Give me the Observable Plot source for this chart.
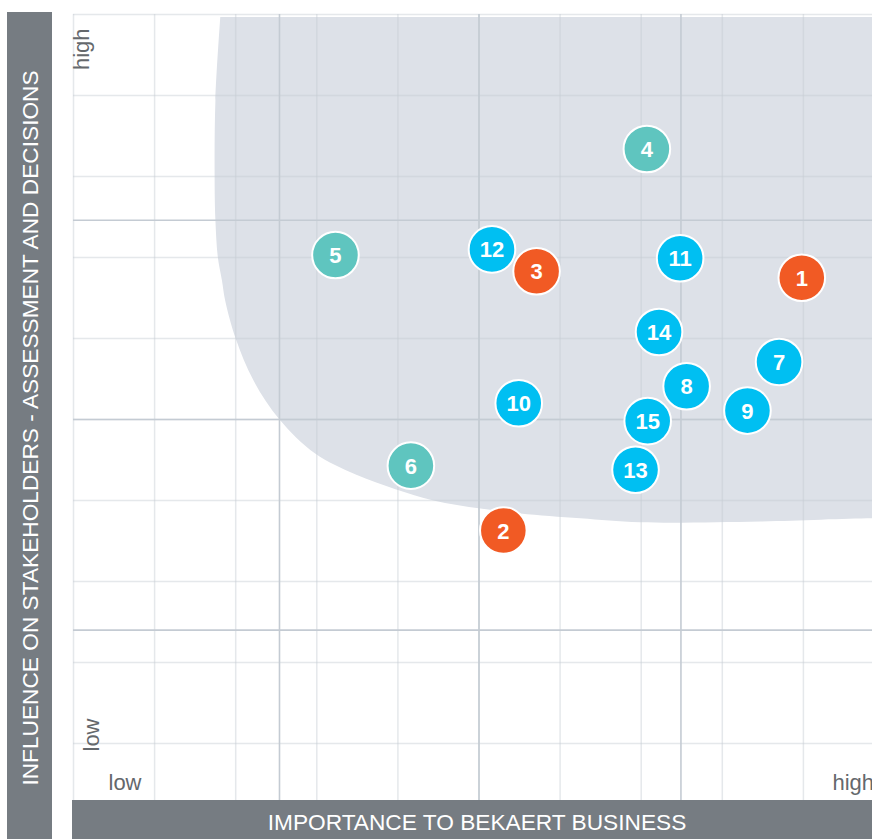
<!DOCTYPE html>
<html>
<head>
<meta charset="utf-8">
<script src="https://cdn.jsdelivr.net/npm/d3@7"></script>
<script src="https://cdn.jsdelivr.net/npm/@observablehq/plot@0.6"></script>
<style>
  html, body { margin: 0; padding: 0; background: #ffffff; }
  #wrap { position: relative; width: 872px; height: 839px; overflow: hidden; }
  #chart svg { display: block; }
  .bar { position: absolute; background: #767c82; color: #ffffff;
         font-family: "Liberation Sans", Arial, sans-serif; font-size: 22.7px; white-space: nowrap; }
  #ybar { left: 7px; top: 12px; width: 45px; height: 827px; }
  #ybar span { position: absolute; left: 22.5px; top: 416px; transform: translate(-50%, -50%) rotate(-90deg); }
  #xbar { left: 72px; top: 800px; width: 800px; height: 39px; }
  #xbar span { position: absolute; left: 405px; top: 21.5px; transform: translate(-50%, -50%); }
</style>
</head>
<body>
<div id="wrap">
  <div id="chart"></div>
  <div class="bar" id="ybar"><span id="ytitle"></span></div>
  <div class="bar" id="xbar"><span id="xtitle"></span></div>
</div>
<script>
// ---- titles ----
const xTitle = "IMPORTANCE TO BEKAERT BUSINESS";
const yTitle = "INFLUENCE ON STAKEHOLDERS - ASSESSMENT AND DECISIONS";
const lowLabel = "low";
const highLabel = "high";

// ---- topics (score units: one light grid cell = 1) ----
const topicIds    = ["4", "5", "11", "12", "3", "1", "14", "7", "8", "10", "9", "15", "13", "6", "2"];
const importance  = [7.07, 3.23, 7.48, 5.16, 5.71, 8.98, 7.22, 8.70, 7.56, 5.49, 8.31, 7.08, 6.93, 4.16, 5.30];
const influence   = [8.34, 7.03, 6.99, 7.10, 6.83, 6.75, 6.08, 5.71, 5.41, 5.20, 5.11, 4.98, 4.38, 4.43, 3.63];
const topicGroup  = ["group B", "group B", "group C", "group C", "group A", "group A", "group C", "group C", "group C", "group C", "group C", "group C", "group C", "group B", "group A"];

const groupNames  = ["group A", "group B", "group C"];
const groupColors = ["#f15a24", "#5fc5bf", "#00bff2"];

// ---- shaded materiality zone outline ----
const zoneX = [1.81, 1.75, 1.74, 1.75, 1.78, 1.83, 1.87, 2.00, 2.22, 2.54, 2.98, 3.48, 3.97, 4.44, 5.02, 5.51, 6.25, 6.99, 8.47, 9.85, 10.3, 10.3];
const zoneY = [9.97, 8.94, 8.01, 7.46, 7.00, 6.72, 6.47, 6.00, 5.48, 5.00, 4.58, 4.32, 4.14, 4.00, 3.90, 3.84, 3.78, 3.73, 3.74, 3.78, 3.77, 9.97];

// ---- grid ----
const lightGridX = [0, 1, 2, 3, 4, 5, 6, 7, 8, 9];
const lightGridY = [1, 2, 3, 4, 5, 6, 7, 8, 9, 10];
const darkGridX  = [2.54, 5.0, 7.49];
const darkGridY  = [7.46, 5.0, 2.40];

const topics = topicIds.map((id, i) => ({id, x: importance[i], y: influence[i], group: topicGroup[i]}));
const zone = zoneX.map((x, i) => ({x, y: zoneY[i]}));

const labelFont = "'Liberation Sans', Arial, sans-serif";
const labelColor = "#64686c";

const chart = Plot.plot({
  width: 872,
  height: 839,
  marginLeft: 73,
  marginRight: 0,
  marginTop: 14,
  marginBottom: 39,
  x: {domain: [0, 9.852], axis: null},
  y: {domain: [0.296, 10], axis: null},
  color: {domain: groupNames, range: groupColors},
  marks: [
    Plot.line(zone, {x: "x", y: "y", fill: "#dde1e8", stroke: "none", curve: "catmull-rom"}),
    Plot.ruleX(lightGridX, {stroke: "#c6ccd3", strokeOpacity: 0.45, strokeWidth: 1.5}),
    Plot.ruleY(lightGridY, {stroke: "#c6ccd3", strokeOpacity: 0.45, strokeWidth: 1.5}),
    Plot.ruleX(darkGridX, {stroke: "#c4cbd3", strokeWidth: 1.6}),
    Plot.ruleY(darkGridY, {stroke: "#c4cbd3", strokeWidth: 1.6}),
    Plot.dot(topics, {x: "x", y: "y", r: 23.3, fill: "group", stroke: "white", strokeWidth: 2}),
    Plot.text(topics, {x: "x", y: "y", text: "id", fill: "white", fontSize: 22, fontWeight: "bold",
      fontFamily: "'Liberation Sans', Arial, sans-serif", dy: 1}),
    Plot.text([highLabel], {frameAnchor: "top-left", text: d => d, rotate: -90, textAnchor: "end",
      lineAnchor: "bottom", dx: 15, dy: 14, fontSize: 22, fill: labelColor, fontFamily: labelFont}),
    Plot.text([lowLabel], {frameAnchor: "bottom-left", text: d => d, rotate: -90, textAnchor: "start",
      lineAnchor: "bottom", dx: 25, dy: -49, fontSize: 22, fill: labelColor, fontFamily: labelFont}),
    Plot.text([lowLabel], {frameAnchor: "bottom-left", text: d => d, textAnchor: "start",
      lineAnchor: "bottom", dx: 35, dy: -11, fontSize: 22, fill: labelColor, fontFamily: labelFont}),
    Plot.text([highLabel], {frameAnchor: "bottom-right", text: d => d, textAnchor: "start",
      lineAnchor: "bottom", dx: -40, dy: -11, fontSize: 22, fill: labelColor, fontFamily: labelFont})
  ]
});
document.getElementById("chart").appendChild(chart);
document.getElementById("xtitle").textContent = xTitle;
document.getElementById("ytitle").textContent = yTitle;
</script>
</body>
</html>
